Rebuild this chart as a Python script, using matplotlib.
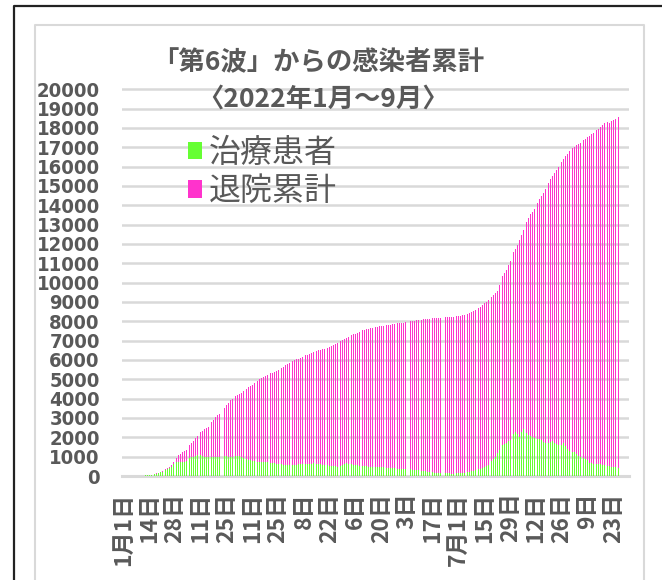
"""
Stacked daily bars: cumulative infections since the 6th wave (Jan - Sep 2022)
"""
import matplotlib
matplotlib.use("Agg")
import matplotlib.pyplot as plt
from matplotlib.patches import Patch
from matplotlib.lines import Line2D

# ---- data -------------------------------------------------------------
title_line1 = "「第6波」からの感染者累計"
title_line2 = "〈2022年1月～9月〉"
series_names = ["治療患者", "退院累計"]
series_colors = ["#66FF33", "#FF33CC"]

tick_labels = ["1月1日", "14日", "28日", "11日", "25日", "11日", "25日", "8日",
               "22日", "6日", "20日", "3日", "17日", "7月1日", "15日", "29日",
               "12日", "26日", "9日", "23日"]
tick_step = 14

yticks = list(range(0, 20001, 1000))

# cumulative infections (treated + discharged), one value per day
total_cases = [
    0, 0, 0, 0, 0, 0, 0, 0, 5, 8,
    10, 20, 30, 40, 50, 65, 80, 100, 130, 165,
    200, 250, 300, 350, 400, 450, 550, 700, 820, 950,
    1080, 1150, 1220, 1290, 1350, 1470, 1580, 1700, 1820, 1950,
    2080, 2200, 2270, 2340, 2410, 2480, 2550, 2670, 2800, 2920,
    3050, 3140, 3230, 3320, 3410, 3500, 3650, 3800, 3950, 4000,
    4060, 4120, 4180, 4240, 4300, 4370, 4440, 4510, 4580, 4650,
    4720, 4790, 4860, 4930, 5000, 5050, 5100, 5150, 5200, 5250,
    5300, 5350, 5400, 5450, 5500, 5550, 5600, 5660, 5720, 5780,
    5840, 5900, 5950, 5990, 6030, 6070, 6110, 6150, 6190, 6230,
    6270, 6310, 6350, 6400, 6430, 6460, 6490, 6520, 6550, 6580,
    6610, 6640, 6670, 6700, 6760, 6820, 6880, 6940, 7000, 7050,
    7100, 7140, 7180, 7230, 7270, 7320, 7360, 7410, 7450, 7500,
    7550, 7570, 7590, 7610, 7640, 7660, 7680, 7700, 7720, 7740,
    7770, 7780, 7790, 7800, 7810, 7830, 7840, 7860, 7870, 7890,
    7900, 7920, 7930, 7950, 7960, 7980, 7990, 8010, 8030, 8050,
    8070, 8080, 8090, 8100, 8110, 8120, 8130, 8140, 8150, 8160,
    8160, 8170, 8180, 8180, 8190, 8200, 8210, 8220, 8230, 8240,
    8245, 8250, 8270, 8290, 8310, 8340, 8370, 8400, 8440, 8480,
    8520, 8560, 8600, 8680, 8760, 8850, 8940, 9020, 9100, 9180,
    9250, 9340, 9440, 9540, 9850, 10200, 10350, 10500, 10670, 10900,
    11130, 11360, 11560, 11760, 11960, 12220, 12480, 12740, 12940, 13130,
    13330, 13520, 13670, 13810, 13950, 14120, 14300, 14470, 14640, 14820,
    15000, 15170, 15350, 15500, 15660, 15810, 15960, 16110, 16250, 16390,
    16530, 16660, 16800, 16870, 16950, 17020, 17090, 17160, 17230, 17300,
    17370, 17440, 17510, 17580, 17660, 17730, 17800, 17880, 17950, 18050,
    18150, 18250, 18360, 18300, 18270, 18350, 18420, 18480, 18530, 18565,
]

# patients under treatment, one value per day
treated = [
    0, 0, 0, 0, 0, 0, 0, 0, 5, 8,
    10, 18, 27, 36, 45, 58, 72, 90, 115, 145,
    190, 230, 280, 330, 380, 420, 480, 620, 680, 700,
    740, 740, 740, 740, 800, 850, 910, 970, 1000, 1030,
    1060, 1090, 1070, 1040, 1000, 1000, 1000, 1000, 990, 980,
    970, 960, 980, 1000, 1020, 1036, 1020, 1000, 990, 980,
    1000, 1020, 1040, 1050, 1000, 950, 900, 860, 830, 810,
    790, 770, 750, 740, 735, 730, 725, 720, 715, 710,
    690, 670, 650, 630, 620, 610, 600, 590, 580, 575,
    570, 575, 580, 585, 590, 595, 600, 600, 610, 620,
    625, 630, 640, 656, 640, 625, 610, 600, 590, 580,
    570, 555, 540, 525, 520, 505, 490, 480, 530, 580,
    620, 656, 640, 620, 600, 580, 560, 545, 535, 525,
    515, 505, 495, 490, 485, 480, 480, 475, 470, 460,
    455, 450, 430, 400, 400, 400, 395, 390, 385, 385,
    380, 380, 380, 370, 360, 350, 340, 320, 310, 300,
    290, 280, 260, 250, 240, 230, 215, 200, 185, 170,
    165, 160, 155, 150, 145, 140, 135, 130, 125, 120,
    125, 130, 140, 150, 160, 175, 190, 210, 230, 260,
    280, 300, 330, 360, 380, 420, 470, 520, 580, 640,
    750, 880, 1000, 1200, 1350, 1500, 1580, 1650, 1720, 1790,
    1850, 2000, 2150, 2280, 2150, 2020, 2250, 2450, 2300, 2200,
    2110, 2050, 2000, 1960, 1940, 1935, 1930, 1850, 1760, 1700,
    1630, 1700, 1750, 1790, 1720, 1650, 1600, 1540, 1620, 1700,
    1550, 1400, 1280, 1260, 1245, 1230, 1150, 1050, 985, 940,
    915, 890, 850, 690, 660, 640, 630, 620, 610, 600,
    590, 580, 560, 540, 510, 490, 470, 460, 445, 430,
]

# ---- styling ----------------------------------------------------------
TEXT_COLOR = "#595959"
GRID_COLOR = "#D9D9D9"
CJK = ["Noto Sans CJK JP", "DejaVu Sans"]

W, H = 662, 580
fig = plt.figure(figsize=(W / 100, H / 100), dpi=100)
fig.patch.set_facecolor("white")

# axes box in pixel coordinates
left, right, top, bottom = 122, 629, 88, 476
ax = fig.add_axes([left / W, 1 - bottom / H, (right - left) / W, (bottom - top) / H])

x = list(range(len(total_cases)))
discharged = [t - g for t, g in zip(total_cases, treated)]

ax.bar(x, treated, width=0.45, color=series_colors[0], linewidth=0, zorder=3)
ax.bar(x, discharged, bottom=treated, width=0.45, color=series_colors[1],
       linewidth=0, zorder=3)

ax.set_xlim(-0.8, 274.5)
ax.set_ylim(0, 20060)

ax.set_yticks(yticks)
ax.set_yticklabels([str(v) for v in yticks], family="DejaVu Sans",
                   fontstretch="condensed", fontsize=14.5, fontweight="bold",
                   color=TEXT_COLOR)
ax.yaxis.grid(True, color=GRID_COLOR, linewidth=1.8, zorder=0)
ax.set_axisbelow(True)

ax.set_xticks([i * tick_step for i in range(len(tick_labels))])
ax.set_xticklabels(tick_labels, rotation=90, family=CJK, fontsize=16.5,
                   fontweight="bold", color=TEXT_COLOR, va="top")
ax.tick_params(axis="both", length=0)
ax.tick_params(axis="y", pad=16)
ax.tick_params(axis="x", pad=12)

for side in ["top", "right", "left"]:
    ax.spines[side].set_visible(False)
ax.spines["bottom"].set_color(GRID_COLOR)
ax.spines["bottom"].set_linewidth(2.2)

# titles
fig.text(318 / W, 1 - 63 / H, title_line1, ha="center", va="center",
         family=CJK, fontsize=19, fontweight="bold", color=TEXT_COLOR)
fig.text(323 / W, 1 - 99 / H, title_line2, ha="center", va="center",
         family=CJK, fontsize=19, fontweight="bold", color=TEXT_COLOR)

# legend
handles = [Patch(facecolor=c, edgecolor="none") for c in series_colors]
leg = fig.legend(handles, series_names, loc="upper left",
                 bbox_to_anchor=(188 / W, 1 - 137 / H), frameon=False,
                 prop={"family": CJK, "size": 23}, handlelength=0.45,
                 handleheight=0.45, handletextpad=0.2, labelspacing=0.2,
                 borderpad=0, borderaxespad=0)
for t in leg.get_texts():
    t.set_color(TEXT_COLOR)

# frames: inner light gray chart border, outer black border
fig.add_artist(Line2D([35 / W, 35 / W, 644 / W, 644 / W],
                      [0, 1 - 25 / H, 1 - 25 / H, 0],
                      color=GRID_COLOR, linewidth=1.5))
fig.add_artist(Line2D([14 / W, 14 / W, 1], [0, 1 - 5.5 / H, 1 - 5.5 / H],
                      color="#222222", linewidth=1.6))

fig.savefig("out.png", dpi=100)
